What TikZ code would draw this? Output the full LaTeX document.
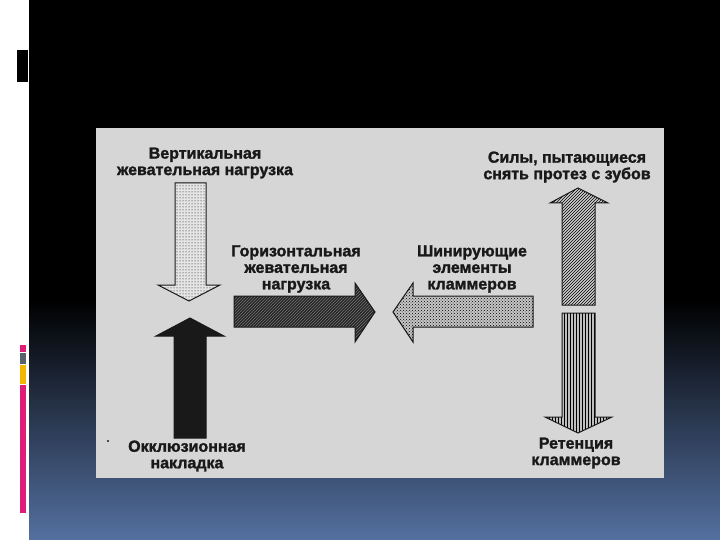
\documentclass[tikz,border=0pt]{standalone}
\usepackage{fontspec}
\setmainfont{Liberation Sans}
\newfontfamily\heavy{Liberation Sans Bold}[BoldFont={Liberation Sans Bold}, BoldFeatures={FakeBold=1.6}]
\usetikzlibrary{patterns}
\definecolor{panel}{RGB}{214,214,214}
\definecolor{barpink}{RGB}{222,30,120}
\definecolor{bargray}{RGB}{88,98,110}
\definecolor{baryellow}{RGB}{240,182,0}
\definecolor{bgblue}{RGB}{84,112,160}
\definecolor{ink}{RGB}{25,25,25}
\begin{document}
\begin{tikzpicture}[x=1pt,y=-1pt,
  lbl/.style={font=\heavy\bfseries\fontsize{16}{16.5}\selectfont, align=center, inner sep=0pt, text=ink},
  arr/.style={draw=ink, line width=1pt, line join=miter}]
\useasboundingbox (0,0) rectangle (720,540);
\fill[white] (0,0) rectangle (720,540);
\fill[black] (29,0) rectangle (720,300);
\shade[top color=black, bottom color=bgblue] (29,300) rectangle (720,540);
% left decorations
\fill[black] (17,50) rectangle (28,82);
\fill[barpink] (20,345) rectangle (26,352);
\fill[bargray] (20,353) rectangle (26,364);
\fill[baryellow] (20,365) rectangle (26,384);
\fill[barpink] (20,385) rectangle (26,513);
% panel
\fill[panel] (96,128) rectangle (664,478);
% arrows
\path[arr, preaction={fill=gray!20}, pattern=dots, pattern color=black]
  (175,183) -- (206,183) -- (206,285) -- (220,285) -- (189,301) -- (158,285) -- (175,285) -- cycle;
\path[arr, fill=ink]
  (174,438) -- (206,438) -- (206,336) -- (224,336) -- (190,318) -- (156,336) -- (174,336) -- cycle;
\path[arr, preaction={fill=black!85}, pattern=north east lines, pattern color=black!55]
  (234,296) -- (355,296) -- (355,283) -- (375,312) -- (355,342) -- (355,327) -- (234,327) -- cycle;
\path[arr, preaction={fill=gray!45}, pattern=crosshatch dots, pattern color=black]
  (533,296) -- (413,296) -- (413,283) -- (393,312) -- (413,342) -- (413,327) -- (533,327) -- cycle;
\path[arr, preaction={fill=gray!40}, pattern=north east lines, pattern color=black]
  (562,305) -- (595,305) -- (595,203) -- (608,203) -- (578,188) -- (550,203) -- (562,203) -- cycle;
\path[arr, preaction={fill=gray!50}, pattern=vertical lines, pattern color=black]
  (562,313) -- (595,313) -- (595,417) -- (612,417) -- (578,433) -- (545,417) -- (562,417) -- cycle;
\fill[ink] (108,441) circle (1.2);
% labels
\node[lbl] (vert) at (205,163) {Вертикальная\\жевательная нагрузка};
\node[lbl] (horiz) at (296,269) {Горизонтальная\\жевательная\\нагрузка};
\node[lbl] (shin) at (472,269) {Шинирующие\\элементы\\кламмеров};
\node[lbl] (sily) at (567,167) {Силы, пытающиеся\\снять протез с зубов};
\node[lbl] (ret) at (576,453) {Ретенция\\кламмеров};
\node[lbl] (okkl) at (187,456) {Окклюзионная\\накладка};
\end{tikzpicture}
\end{document}
